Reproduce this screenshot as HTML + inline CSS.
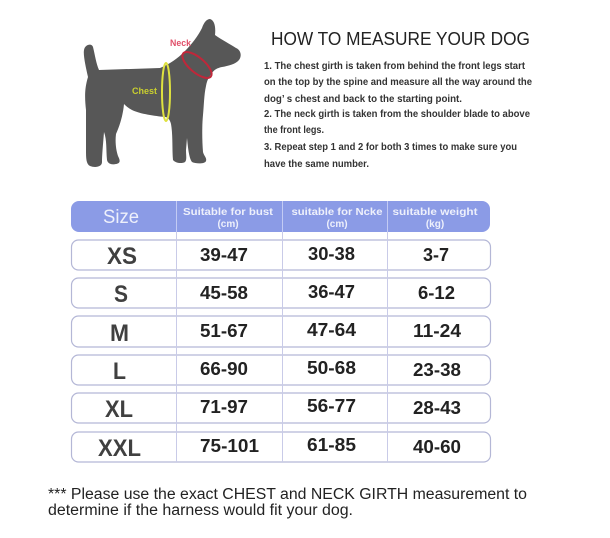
<!DOCTYPE html>
<html><head><meta charset="utf-8"><style>
html,body{margin:0;padding:0;background:#fff;}
svg{display:block;}
text{font-family:"Liberation Sans","Noto Sans CJK SC",sans-serif;}
</style></head><body>
<svg width="610" height="538" viewBox="0 0 610 538" xmlns="http://www.w3.org/2000/svg">
<rect width="610" height="538" fill="#fff"/>
<!-- dog -->
<path fill="#575757" d="M88,77 C86,68 83,55 84,50 C85,44 92,43 93,47 C95,55 96,63 99,70 L160,68 C170,64 178,58 184,52 C192,44 198,36 202,28 C204,22 207,19 210,19 C214,20 216,26 215,35 C222,40 230,44 236,48 C241,50 242,56 239,60 C236,64 228,66 222,67 C217,68 214,70 212,73 C209,77 207,80 206,86 C204,95 204,105 203,115 C202,125 202,140 203,152 C204,156 207,158 206,161 C205,164 196,164 192,162 C189,158 188,148 187,138 L186,150 C186,156 187,160 185,162 C182,164 175,163 173,160 C172,150 173,135 171,124 C170,120 168,117 165,117 C155,116 140,114 132,110 C128,108 126,106 124,104 C123,115 120,125 116,134 C115,142 116,150 118,156 C120,160 121,163 116,164 C112,165 108,164 107,160 C106,150 107,140 104,132 C103,145 102,155 102,162 C102,167 95,168 90,166 C86,164 86,158 86,150 C86,135 86,120 86,110 C85,100 84,90 88,77 Z"/>
<ellipse cx="166" cy="92" rx="4" ry="29" fill="none" stroke="#dfe23f" stroke-width="2"/>
<ellipse cx="197" cy="65" rx="18" ry="7.5" transform="rotate(40 197 65)" fill="none" stroke="#c0273a" stroke-width="2"/>
<text x="132" y="94" font-size="9.5" font-weight="bold" fill="#c9cf2f" textLength="25" lengthAdjust="spacingAndGlyphs">Chest</text>
<text x="170" y="46" font-size="9.5" font-weight="bold" fill="#e0506a" textLength="21" lengthAdjust="spacingAndGlyphs">Neck</text>

<!-- title & instructions -->
<text x="271" y="45" font-size="18" fill="#222" textLength="259" lengthAdjust="spacingAndGlyphs">HOW TO MEASURE YOUR DOG</text>
<g font-size="10.5" font-weight="bold" fill="#333">
<text x="264" y="69" textLength="261" lengthAdjust="spacingAndGlyphs">1. The chest girth is taken from behind the front legs start</text>
<text x="264" y="85" textLength="268" lengthAdjust="spacingAndGlyphs">on the top by the spine and measure all the way around the</text>
<text x="264" y="102" textLength="198" lengthAdjust="spacingAndGlyphs">dog’ s chest and back to the starting point.</text>
<text x="264" y="117" textLength="266" lengthAdjust="spacingAndGlyphs">2. The neck girth is taken from the shoulder blade to above</text>
<text x="264" y="133" textLength="60" lengthAdjust="spacingAndGlyphs">the front legs.</text>
<text x="264" y="150" textLength="253" lengthAdjust="spacingAndGlyphs">3. Repeat step 1 and 2 for both 3 times to make sure you</text>
<text x="264" y="167" textLength="105" lengthAdjust="spacingAndGlyphs">have the same number.</text>
</g>

<!-- header -->
<rect x="71" y="201" width="419" height="31" rx="8" fill="#8b9be6"/>
<g stroke="#c3cbf4" stroke-width="1">
<line x1="176.5" y1="201" x2="176.5" y2="232"/>
<line x1="282.5" y1="201" x2="282.5" y2="232"/>
<line x1="387.5" y1="201" x2="387.5" y2="232"/>
</g>
<text x="103" y="223" font-size="19" fill="#eef0fb" textLength="36" lengthAdjust="spacingAndGlyphs">Size</text>
<g font-size="10" font-weight="bold" fill="#eef0fb" text-anchor="middle">
<text x="228" y="215" textLength="90" lengthAdjust="spacingAndGlyphs">Suitable for bust</text>
<text x="228" y="227">(cm)</text>
<text x="337" y="215" textLength="91" lengthAdjust="spacingAndGlyphs">suitable for Ncke</text>
<text x="337" y="227">(cm)</text>
<text x="435" y="215" textLength="85" lengthAdjust="spacingAndGlyphs">suitable weight</text>
<text x="435" y="227">(kg)</text>
</g>

<!-- rows -->
<g fill="#fff" stroke="#b4b7d6" stroke-width="1.2">
<rect x="71.5" y="240" width="419" height="30" rx="7"/>
<rect x="71.5" y="278" width="419" height="30" rx="7"/>
<rect x="71.5" y="316" width="419" height="31" rx="7"/>
<rect x="71.5" y="355" width="419" height="30" rx="7"/>
<rect x="71.5" y="393" width="419" height="30" rx="7"/>
<rect x="71.5" y="432" width="419" height="30" rx="7"/>
</g>
<g stroke="#c9cbe8" stroke-width="1">
<line x1="176.5" y1="232" x2="176.5" y2="462"/>
<line x1="282.5" y1="232" x2="282.5" y2="462"/>
<line x1="387.5" y1="232" x2="387.5" y2="462"/>
</g>
<g font-size="24" font-weight="bold" fill="#404040">
<text x="107" y="264" textLength="30" lengthAdjust="spacingAndGlyphs">XS</text>
<text x="114" y="302" textLength="14" lengthAdjust="spacingAndGlyphs">S</text>
<text x="110" y="341" textLength="19" lengthAdjust="spacingAndGlyphs">M</text>
<text x="113" y="379" textLength="13" lengthAdjust="spacingAndGlyphs">L</text>
<text x="105" y="417" textLength="28" lengthAdjust="spacingAndGlyphs">XL</text>
<text x="98" y="456" textLength="43" lengthAdjust="spacingAndGlyphs">XXL</text>
</g>
<g font-size="18" font-weight="bold" fill="#222">
<text x="200" y="261" textLength="48" lengthAdjust="spacingAndGlyphs">39-47</text>
<text x="308" y="260" textLength="47" lengthAdjust="spacingAndGlyphs">30-38</text>
<text x="436" y="261" text-anchor="middle" textLength="26" lengthAdjust="spacingAndGlyphs">3-7</text>

<text x="200" y="299" textLength="48" lengthAdjust="spacingAndGlyphs">45-58</text>
<text x="308" y="298" textLength="47" lengthAdjust="spacingAndGlyphs">36-47</text>
<text x="436.5" y="299" text-anchor="middle" textLength="37" lengthAdjust="spacingAndGlyphs">6-12</text>

<text x="200" y="337" textLength="48" lengthAdjust="spacingAndGlyphs">51-67</text>
<text x="307" y="336" textLength="49" lengthAdjust="spacingAndGlyphs">47-64</text>
<text x="437" y="337" text-anchor="middle" textLength="48" lengthAdjust="spacingAndGlyphs">11-24</text>

<text x="200" y="375" textLength="48" lengthAdjust="spacingAndGlyphs">66-90</text>
<text x="307" y="374" textLength="49" lengthAdjust="spacingAndGlyphs">50-68</text>
<text x="437" y="376" text-anchor="middle" textLength="48" lengthAdjust="spacingAndGlyphs">23-38</text>

<text x="200" y="413" textLength="48" lengthAdjust="spacingAndGlyphs">71-97</text>
<text x="307" y="412" textLength="49" lengthAdjust="spacingAndGlyphs">56-77</text>
<text x="437" y="414" text-anchor="middle" textLength="48" lengthAdjust="spacingAndGlyphs">28-43</text>

<text x="200" y="452" textLength="59" lengthAdjust="spacingAndGlyphs">75-101</text>
<text x="307" y="451" textLength="49" lengthAdjust="spacingAndGlyphs">61-85</text>
<text x="437" y="453" text-anchor="middle" textLength="48" lengthAdjust="spacingAndGlyphs">40-60</text>
</g>

<!-- note -->
<g font-size="15.5" fill="#222">
<text x="48" y="499" textLength="479" lengthAdjust="spacingAndGlyphs">*** Please use the exact CHEST and NECK GIRTH measurement to</text>
<text x="48" y="515" textLength="305" lengthAdjust="spacingAndGlyphs">determine if the harness would fit your dog.</text>
</g>
</svg>
</body></html>
